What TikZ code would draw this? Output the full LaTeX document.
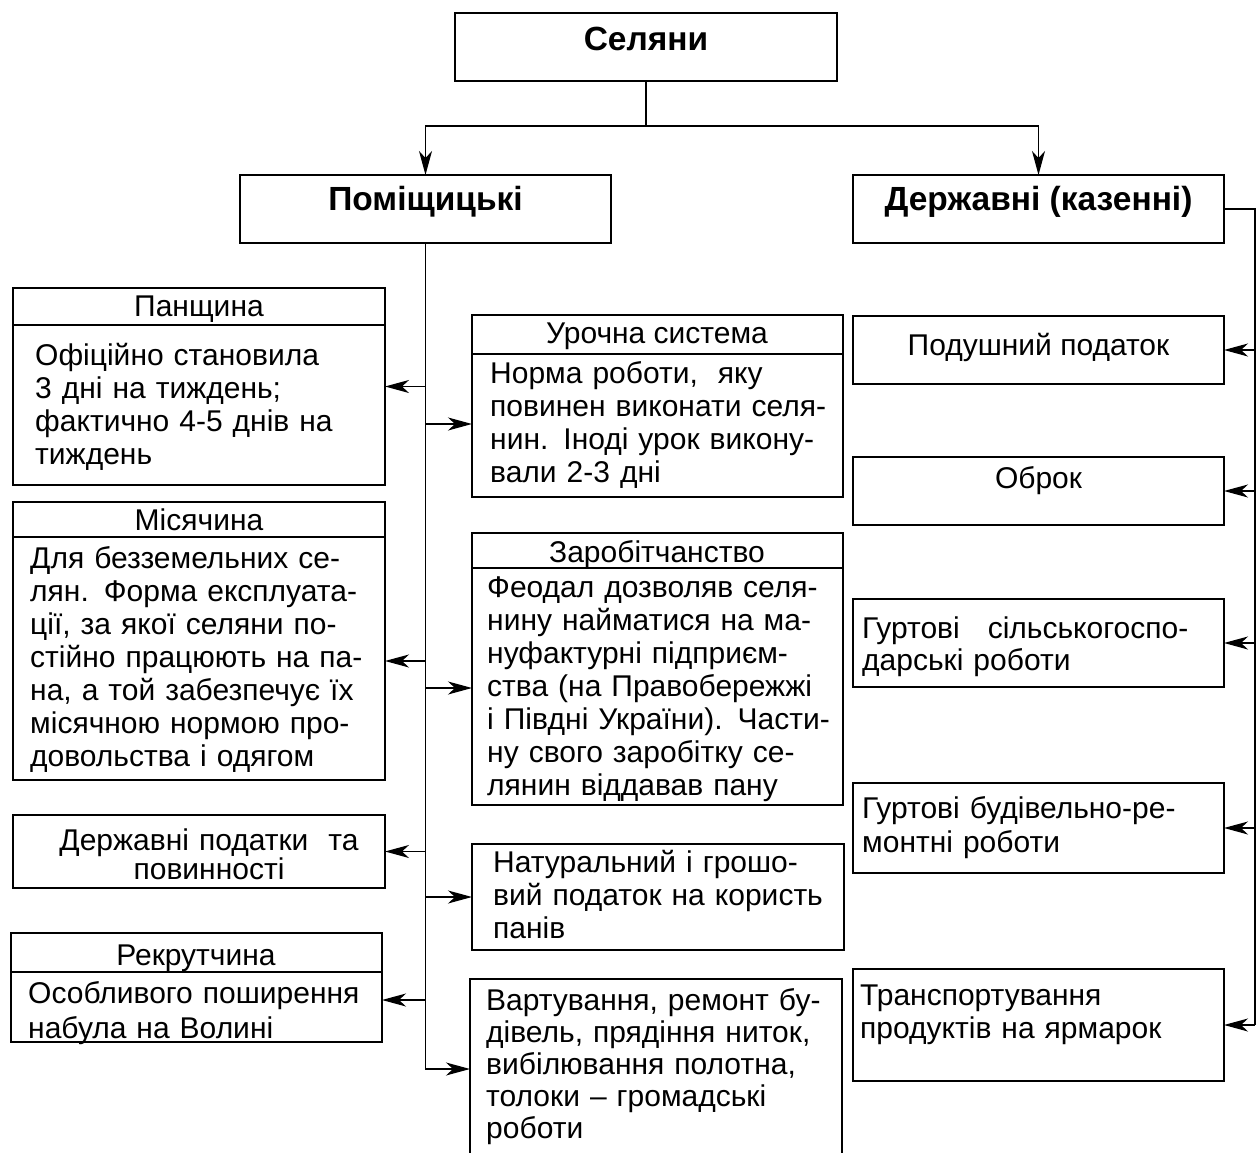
\documentclass[tikz,border=0pt]{standalone}
\usepackage{fontspec}
\setmainfont{Liberation Sans}
\usetikzlibrary{arrows.meta}
\begin{document}
\begin{tikzpicture}[x=1pt,y=-1pt,
  box/.style={draw,line width=1.7pt,anchor=north west,inner sep=0pt,outer sep=0pt},
  divline/.style={line width=1.6pt},
  conn/.style={line width=1.3pt},
  arr/.style={conn,-{Stealth[length=24pt,width=13pt,inset=7pt]}},
  body/.style={font=\fontsize{30}{33}\selectfont,text width=420pt,align=left,inner sep=0pt,anchor=base west},
  ttl/.style={font=\fontsize{30}{33}\selectfont,inner sep=0pt,anchor=base},
  head/.style={font=\fontsize{33.5}{38}\selectfont\bfseries,inner sep=0pt,anchor=base},
]
\useasboundingbox (0,0) rectangle (1259,1153);
\clip (0,0) rectangle (1259,1153);

% ---- top level
\node[box,minimum width=382pt,minimum height=68pt] (sel) at (455,13) {};
\node[head] (selT) at (646,51) {Селяни};
\node[box,minimum width=371pt,minimum height=68pt] (pom) at (240,175) {};
\node[head] (pomT) at (425.5,211) {Поміщицькі};
\node[box,minimum width=371pt,minimum height=68pt] (derz) at (853,175) {};
\node[head] (derzT) at (1038.5,211) {Державні (казенні)};

% ---- left column
\node[box,minimum width=372pt,minimum height=197pt] (pan) at (13,288) {};
\draw[divline] (pan.north west) ++(0,37) -- ++(372,0);
\node[ttl] (panT) at (199,316) {Панщина};
\node[body] (panB) at (35,365) {Офіційно становила\\3 дні на тиждень;\\фактично 4-5 днів на\\тиждень};

\node[box,minimum width=372pt,minimum height=278pt] (mis) at (13,502) {};
\draw[divline] (mis.north west) ++(0,35) -- ++(372,0);
\node[ttl] (misT) at (199,530) {Місячина};
\node[body] (misB) at (30,568) {Для безземельних се-\\лян. Форма експлуата-\\ції, за якої селяни по-\\стійно працюють на па-\\на, а той забезпечує їх\\місячною нормою про-\\довольства і одягом};

\node[box,minimum width=372pt,minimum height=73pt] (dpod) at (13,815) {};
\node[ttl,font=\fontsize{30}{29}\selectfont,text width=350pt,align=center] (dpodT) at (209,850) {Державні податки\ \ та\\повинності};

\node[box,minimum width=371pt,minimum height=109pt] (rek) at (11,933) {};
\draw[divline] (rek.north west) ++(0,39) -- ++(371,0);
\node[ttl] (rekT) at (196,965) {Рекрутчина};
\node[body,font=\fontsize{30}{35}\selectfont] (rekB) at (28,1003) {Особливого поширення\\набула на Волині};

% ---- middle column
\node[box,minimum width=371pt,minimum height=182pt] (uro) at (472,315) {};
\draw[divline] (uro.north west) ++(0,39) -- ++(371,0);
\node[ttl] (uroT) at (657,343) {Урочна система};
\node[body] (uroB) at (490,383) {Норма роботи,\ \ яку\\повинен виконати селя-\\нин. Іноді урок викону-\\вали 2-3 дні};

\node[box,minimum width=371pt,minimum height=272pt] (zar) at (472,533) {};
\draw[divline] (zar.north west) ++(0,35) -- ++(371,0);
\node[ttl] (zarT) at (657,562) {Заробітчанство};
\node[body] (zarB) at (487,597) {Феодал дозволяв селя-\\нину найматися на ма-\\нуфактурні підприєм-\\ства (на Правобережжі\\і Півдні України). Части-\\ну свого заробітку се-\\лянин віддавав пану};

\node[box,minimum width=372pt,minimum height=106pt] (nat) at (472,844) {};
\node[body] (natB) at (493,872) {Натуральний і грошо-\\вий податок на користь\\панів};

\node[box,minimum width=372pt,minimum height=180pt] (vart) at (470,979) {};
\node[body,font=\fontsize{30}{32}\selectfont] (vartB) at (486,1010) {Вартування, ремонт бу-\\дівель, прядіння ниток,\\вибілювання полотна,\\толоки – громадські\\роботи};

% ---- right column
\node[box,minimum width=371pt,minimum height=68pt] (podu) at (853,316) {};
\node[ttl] (poduT) at (1038.5,355) {Подушний податок};
\node[box,minimum width=371pt,minimum height=68pt] (obr) at (853,457) {};
\node[ttl] (obrT) at (1038.5,488) {Оброк};
\node[box,minimum width=371pt,minimum height=88pt] (gs) at (853,599) {};
\node[body,font=\fontsize{30}{32}\selectfont] (gsB) at (862,638) {Гуртові\hspace{28pt}сільськогоспо-\\дарські роботи};
\node[box,minimum width=371pt,minimum height=90pt] (gb) at (853,783) {};
\node[body,font=\fontsize{30}{34}\selectfont] (gbB) at (862,818) {Гуртові будівельно-ре-\\монтні роботи};
\node[box,minimum width=371pt,minimum height=112pt] (tr) at (853,969) {};
\node[body] (trB) at (860,1005) {Транспортування\\продуктів на ярмарок};

% ---- connectors: top
\draw[conn] (sel.south) -- ++(0,45) coordinate (split);
\draw[arr] (split) -| (pom.north);
\draw[arr] (split) -| (derz.north);

% ---- left trunk
\coordinate (yU) at (0,424);
\coordinate (yM) at (0,661);
\coordinate (yZ) at (0,688);
\coordinate (yR) at (0,1000);
\draw[arr] (pom.south) |- (vart.west);
\draw[arr] (pom.south |- pan.east) -- (pan.east);
\draw[arr] (pom.south |- yU) -- (yU -| uro.west);
\draw[arr] (pom.south |- yM) -- (yM -| mis.east);
\draw[arr] (pom.south |- yZ) -- (yZ -| zar.west);
\draw[arr] (pom.south |- dpod.east) -- (dpod.east);
\draw[arr] (pom.south |- nat.west) -- (nat.west);
\draw[arr] (pom.south |- yR) -- (yR -| rek.east);

% ---- right trunk
\draw[conn] (derz.east) -- ++(31,0) coordinate (rt) -- (rt |- tr.east);
\draw[arr] (rt |- podu.east) -- (podu.east);
\draw[arr] (rt |- obr.east) -- (obr.east);
\draw[arr] (rt |- gs.east) -- (gs.east);
\draw[arr] (rt |- gb.east) -- (gb.east);
\draw[arr] (rt |- tr.east) -- (tr.east);
\end{tikzpicture}
\end{document}
